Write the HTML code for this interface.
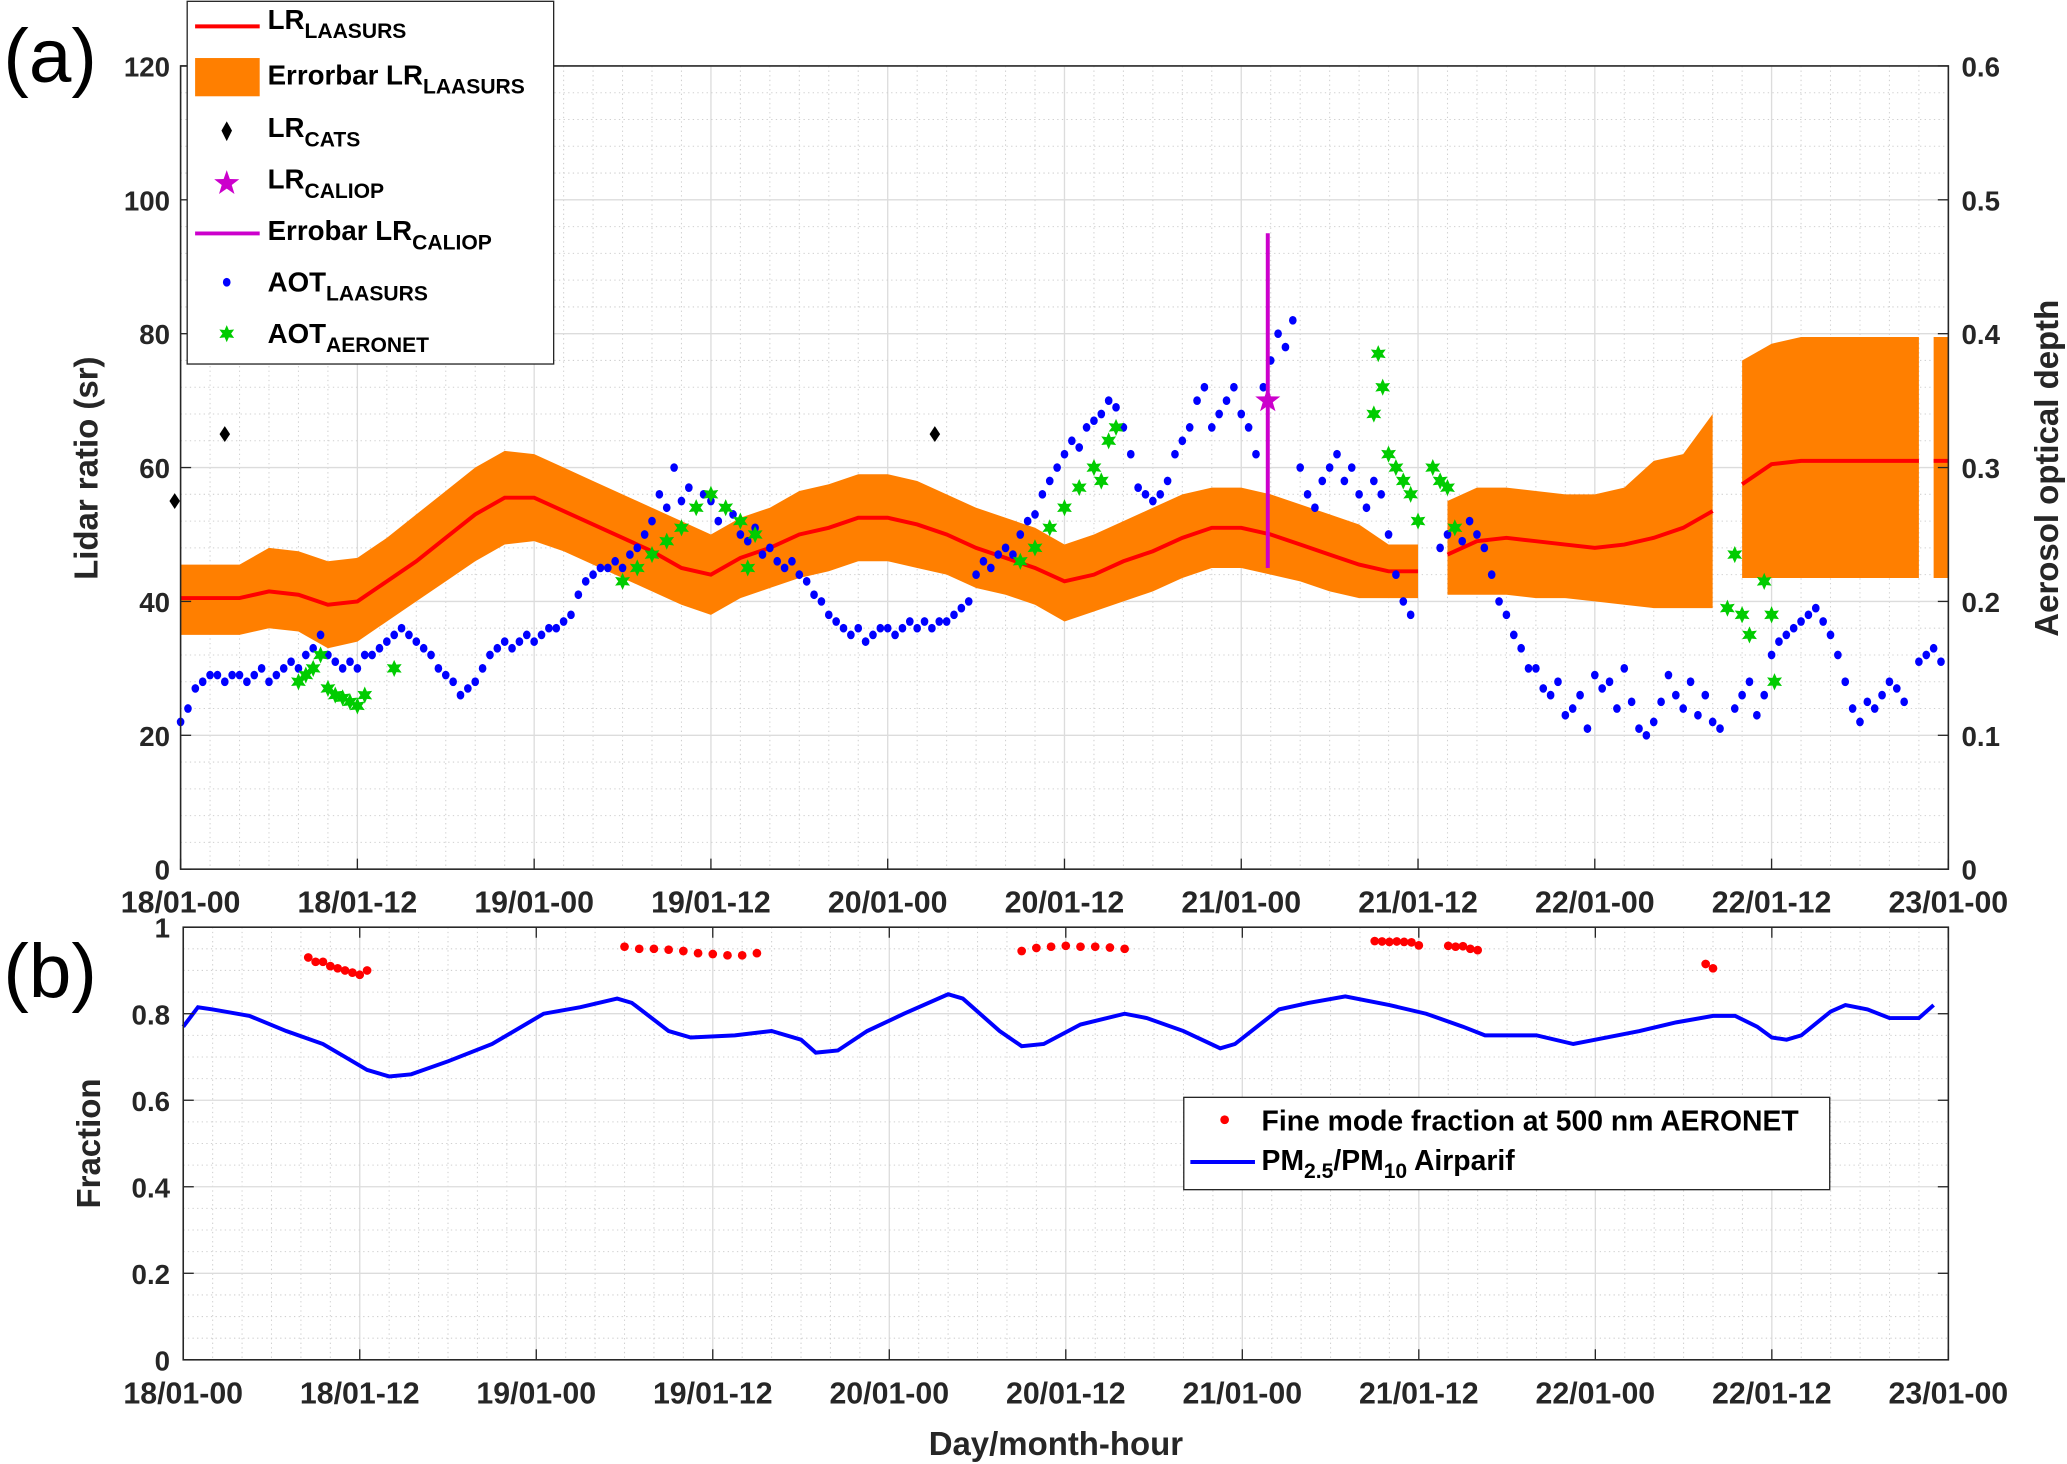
<!DOCTYPE html>
<html><head><meta charset="utf-8"><style>
html,body{margin:0;padding:0;background:#fff;}
svg{display:block;font-family:"Liberation Sans",Arial,sans-serif;font-weight:bold;}
</style></head><body>
<svg id="fig" width="2067" height="1464" viewBox="0 0 1568 1110" preserveAspectRatio="none" xmlns="http://www.w3.org/2000/svg"></svg>
<script>
// ---- data (time in hours from 18/01-00) ----
const xTickLabels = ["18/01-00","18/01-12","19/01-00","19/01-12","20/01-00","20/01-12","21/01-00","21/01-12","22/01-00","22/01-12","23/01-00"];
const lrTicks = [0,20,40,60,80,100,120];
const aotTicks = ["0","0.1","0.2","0.3","0.4","0.5","0.6"];
const fracTicks = [0,0.2,0.4,0.6,0.8,1];
const fracTickLabels = ["0","0.2","0.4","0.6","0.8","1"];

const lrTime = [0,2,4,6,8,10,12,14,16,18,20,22,24,26,28,30,32,34,36,38,40,42,44,46,48,50,52,54,56,58,60,62,64,66,68,70,72,74,76,78,80,82,84,84.5,86,88,90,92,94,96,98,100,102,104,104.5,106,108,110,112,114,116,118,118.5,119,120];
const lrValue = [40.5,40.5,40.5,41.5,41,39.5,40,43,46,49.5,53,55.5,55.5,53.5,51.5,49.5,47.5,45,44,46.5,48,50,51,52.5,52.5,51.5,50,48,46.5,45,43,44,46,47.5,49.5,51,51,50,48.5,47,45.5,44.5,44.5,null,47,49,49.5,49,48.5,48,48.5,49.5,51,53.5,null,57.5,60.5,61,61,61,61,61,null,61,61];
const lrLow = [35,35,35,36,35.5,33,34,37,40,43,46,48.5,49,47.5,45.5,43.5,41.5,39.5,38,40.5,42,43.5,44.5,46,46,45,44,42,41,39.5,37,38.5,40,41.5,43.5,45,45,44,43,41.5,40.5,40.5,40.5,null,41,41,41,40.5,40.5,40,39.5,39,39,39,null,43.5,43.5,43.5,43.5,43.5,43.5,43.5,null,43.5,43.5];
const lrHigh = [45.5,45.5,45.5,48,47.5,46,46.5,49.5,53,56.5,60,62.5,62,60,58,56,54,52,50,52.5,54,56.5,57.5,59,59,58,56,54,52.5,51,48.5,50,52,54,56,57,57,56,54.5,53,51.5,48.5,48.5,null,55,57,57,56.5,56,56,57,61,62,68,null,76,78.5,79.5,79.5,79.5,79.5,79.5,null,79.5,79.5];

const catsTime = [-0.4,3,51.2];
const catsValue = [55,65,65];
const caliopTime = [73.8];
const caliopValue = [70];
const caliopLow = [45];
const caliopHigh = [95];

const aotLaasurs = [
.110,.120,.135,.140,.145,.145,.140,.145,.145,.140,
.145,.150,.140,.145,.150,.155,.150,.160,.165,.175,
.160,.155,.150,.155,.150,.160,.160,.165,.170,.175,
.180,.175,.170,.165,.160,.150,.145,.140,.130,.135,
.140,.150,.160,.165,.170,.165,.170,.175,.170,.175,
.180,.180,.185,.190,.205,.215,.220,.225,.225,.230,
.225,.235,.240,.250,.260,.280,.270,.300,.275,.285,
.270,.280,.275,.260,.270,.265,.250,.245,.255,.235,
.240,.230,.225,.230,.220,.215,.205,.200,.190,.185,
.180,.175,.180,.170,.175,.180,.180,.175,.180,.185,
.180,.185,.180,.185,.185,.190,.195,.200,.220,.230,
.225,.235,.240,.235,.250,.260,.265,.280,.290,.300,
.310,.320,.315,.330,.335,.340,.350,.345,.330,.310,
.285,.280,.275,.280,.290,.310,.320,.330,.350,.360,
.330,.340,.350,.360,.340,.330,.310,.360,.380,.400,
.390,.410,.300,.280,.270,.290,.300,.310,.290,.300,
.280,.270,.290,.280,.250,.220,.200,.190,null,null,
null,.240,.250,.255,.245,.260,.250,.240,.220,.200,
.190,.175,.165,.150,.150,.135,.130,.140,.115,.120,
.130,.105,.145,.135,.140,.120,.150,.125,.105,.100,
.110,.125,.145,.130,.120,.140,.115,.130,.110,.105,
null,.120,.130,.140,.115,.130,.160,.170,.175,.180,
.185,.190,.195,.185,.175,.160,.140,.120,.110,.125,
.120,.130,.140,.135,.125,null,.155,.160,.165,.155,null];
const aotLaasursStep = 0.5;

const aeronetTime = [8,8.5,9,9.5,10,10.5,11,11.5,12,12.5,14.5,30,31,32,33,34,35,36,37,38,38.5,39,57,58,59,60,61,62,62.5,63,63.5,81,81.3,81.6,82,82.5,83,83.5,84,85,85.5,86,86.5,105,105.5,106,106.5,107.5,108,108.2];
const aeronetValue = [.140,.145,.150,.160,.135,.130,.128,.125,.122,.130,.150,.215,.225,.235,.245,.255,.270,.280,.270,.260,.225,.250,.230,.240,.255,.270,.285,.300,.290,.320,.330,.340,.385,.360,.310,.300,.290,.280,.260,.300,.290,.285,.255,.195,.235,.190,.175,.215,.190,.140];

const fmfTime = [8.5,9,9.5,10,10.5,11,11.5,12,12.5,30,31,32,33,34,35,36,37,38,39,57,58,59,60,61,62,63,64,81,81.5,82,82.5,83,83.5,84,86,86.5,87,87.5,88,103.5,104];
const fmfValue = [.93,.92,.92,.91,.905,.90,.895,.89,.90,.955,.95,.95,.948,.945,.94,.938,.935,.935,.94,.945,.952,.955,.957,.955,.955,.953,.95,.968,.967,.966,.967,.966,.965,.958,.957,.955,.956,.950,.947,.915,.905];

const pmTime = [0,1,2,4.5,7,9.5,11,12.5,14,15.5,18,21,24.5,27,29.5,30.5,33,34.5,37.5,40,42,43,44.5,46.5,49,52,53,55.5,57,58.5,61,64,65.5,68,70.5,71.5,73,74.5,76.5,79,82,84.5,87,88.5,91,92,94.5,96,99,101.5,104,105.5,107,108,109,110,112,113,114.5,116,118,119];
const pmValue = [.77,.815,.81,.795,.76,.73,.70,.67,.655,.66,.69,.73,.80,.815,.835,.825,.76,.745,.75,.76,.74,.71,.715,.76,.80,.845,.835,.76,.725,.73,.775,.80,.79,.76,.72,.73,.77,.81,.825,.84,.82,.80,.77,.75,.75,.75,.73,.74,.76,.78,.795,.795,.77,.745,.74,.75,.805,.82,.81,.79,.79,.82];

// ---- helpers ----
const svg = document.getElementById('fig');
const NS = 'http://www.w3.org/2000/svg';
function mk(tag, attrs, parent){const e=document.createElementNS(NS,tag);for(const k in attrs)e.setAttribute(k,attrs[k]);(parent||svg).appendChild(e);return e;}

const T = {x0:137, x1:1478, y0:659, y1:50};
const B = {x0:139, x1:1478, y0:1031, y1:703};
const xt = t => T.x0 + t*(T.x1-T.x0)/120;
const xb = t => B.x0 + t*(B.x1-B.x0)/120;
const yLR = v => T.y0 - v*(T.y0-T.y1)/120;
const yAOT = v => T.y0 - v*(T.y0-T.y1)/0.6;
const yF = v => B.y0 - v*(B.y0-B.y1);

function grid(P, xf, yMinorStep, yMax, yf, majorStep){
  const g = mk('g',{});
  
  
  for(let t=0;t<=120;t+=2){
    const major = t%12===0;
    mk('line',{x1:xf(t),x2:xf(t),y1:P.y1,y2:P.y0,stroke:major?'#dcdcdc':'#d0d0d0','stroke-width':major?1:0.8,'stroke-dasharray':major?'':'1,2.5'},g);
  }
  for(let v=0; v<=yMax+1e-9; v+=yMinorStep){
    const major = Math.abs(v/majorStep-Math.round(v/majorStep))<1e-6;
    mk('line',{x1:P.x0,x2:P.x1,y1:yf(v),y2:yf(v),stroke:major?'#dcdcdc':'#d0d0d0','stroke-width':major?1:0.8,'stroke-dasharray':major?'':'1,2.5'},g);
  }
}
function axesBox(P, name){
  const r = mk('rect',{x:P.x0,y:P.y1,width:P.x1-P.x0,height:P.y0-P.y1,fill:'none',stroke:'#262626','stroke-width':1.2});
  
  
}
function text(x,y,s,size,anchor,name,extra){
  const e = mk('text',Object.assign({x:x,y:y,'font-size':size,'text-anchor':anchor||'middle',fill:'#262626'},extra||{}));
  e.textContent = s;
  
  
  return e;
}

// ---- TOP PANEL ----
grid(T, xt, 4, 120, yLR, 20);

function segments(times, a, b){
  const segs=[];let cur=[];
  for(let i=0;i<times.length;i++){
    if(a[i]===null){if(cur.length)segs.push(cur);cur=[];continue;}
    cur.push([times[i],a[i],b?b[i]:null]);
  }
  if(cur.length)segs.push(cur);
  return segs;
}
segments(lrTime, lrLow, lrHigh).forEach((seg,i)=>{
  let d='M'+seg.map(p=>xt(p[0])+','+yLR(p[2])).join(' L');
  d+=' L'+seg.slice().reverse().map(p=>xt(p[0])+','+yLR(p[1])).join(' L')+' Z';
  const p = mk('path',{d:d,fill:'#ff7f00',stroke:'none'});
  
  
});
segments(lrTime, lrValue).forEach(seg=>{
  const p = mk('polyline',{points:seg.map(p=>xt(p[0])+','+yLR(p[1])).join(' '),fill:'none',stroke:'#ff0000','stroke-width':3});
  
  
});

const gAot = mk('g',{fill:'#0000ff'});


aotLaasurs.forEach((v,i)=>{
  if(v===null) return;
  const c = mk('ellipse',{cx:xt(i*aotLaasursStep),cy:yAOT(v),rx:2.9,ry:3.3},gAot);
  
  
});

function starPath(cx,cy,r){
  let d='';
  for(let k=0;k<12;k++){
    const a=-Math.PI/2+k*Math.PI/6;const rr=k%2===0?r:r*0.5;
    d+=(k?'L':'M')+(cx+rr*Math.cos(a)).toFixed(1)+','+(cy+rr*Math.sin(a)).toFixed(1);
  }
  return d+'Z';
}
const gAer = mk('g',{fill:'#00cc00'});


aeronetTime.forEach((t,i)=>{
  const s = mk('path',{d:starPath(xt(t),yAOT(aeronetValue[i]),6.5)},gAer);
  
  
});

catsTime.forEach((t,i)=>{
  const x=xt(t),y=yLR(catsValue[i]);
  const d = mk('path',{d:`M${x},${y-6} L${x+4},${y} L${x},${y+6} L${x-4},${y} Z`,fill:'#000'});
  
  
});
caliopTime.forEach((t,i)=>{
  const l = mk('line',{x1:xt(t),x2:xt(t),y1:yLR(caliopLow[i]),y2:yLR(caliopHigh[i]),stroke:'#cc00cc','stroke-width':3});
  
  
  const s = mk('path',{d:(function(){let d='';for(let k=0;k<10;k++){const a=-Math.PI/2+k*Math.PI/5;const r=k%2?4:10;d+=(k?'L':'M')+(xt(t)+r*Math.cos(a))+','+(yLR(caliopValue[i])+r*Math.sin(a));}return d+'Z';})(),fill:'#cc00cc'});
  
  
});

axesBox(T,'top-axes-box');
lrTicks.forEach((v,i)=>{
  mk('line',{x1:T.x0,x2:T.x0+8,y1:yLR(v),y2:yLR(v),stroke:'#262626'});
  mk('line',{x1:T.x1,x2:T.x1-8,y1:yLR(v),y2:yLR(v),stroke:'#262626'});
  text(T.x0-8,yLR(v)+8,String(v),21,'end','left-y-tick-label');
  text(T.x1+10,yLR(v)+8,aotTicks[i],21,'start','right-y-tick-label');
});
xTickLabels.forEach((s,i)=>{
  const x=xt(i*12);
  mk('line',{x1:x,x2:x,y1:T.y0,y2:T.y0-8,stroke:'#262626'});
  text(x,T.y0+33,s,23,'middle','top-x-tick-label');
});
text(0,0,'Lidar ratio (sr)',25,'middle','left-y-axis-title',{transform:`translate(74,355) rotate(-90)`});
text(0,0,'Aerosol optical depth',25,'middle','right-y-axis-title',{transform:`translate(1561,355) rotate(-90)`});
text(38,62,'(a)',58,'middle','panel-a-label',{'font-weight':'normal',fill:'#000'});

const lg = mk('g',{});


mk('rect',{x:142,y:1,width:278,height:275,fill:'#fff',stroke:'#262626','stroke-width':1},lg);
function legText(y,main,sub,name){
  const e=mk('text',{x:203,y:y,'font-size':21,fill:'#000'},lg);
  
  
  e.appendChild(document.createTextNode(main));
  if(sub){const ts=mk('tspan',{'font-size':16,dy:7},e);ts.textContent=sub;}
}
mk('line',{x1:148,x2:197,y1:20,y2:20,stroke:'#ff0000','stroke-width':3},lg);
legText(22,'LR','LAASURS','legend-lr-laasurs');
mk('rect',{x:148,y:44,width:49,height:29,fill:'#ff7f00'},lg);
legText(64,'Errorbar LR','LAASURS','legend-errorbar-lr-laasurs');
mk('path',{d:'M172,92 L176,99 L172,107 L168,99 Z',fill:'#000'},lg);
legText(104,'LR','CATS','legend-lr-cats');
(function(){let d='';for(let k=0;k<10;k++){const a=-Math.PI/2+k*Math.PI/5;const r=k%2?4:10;d+=(k?'L':'M')+(172+r*Math.cos(a))+','+(139+r*Math.sin(a));}mk('path',{d:d+'Z',fill:'#cc00cc'},lg);})();
legText(143,'LR','CALIOP','legend-lr-caliop');
mk('line',{x1:148,x2:197,y1:177,y2:177,stroke:'#cc00cc','stroke-width':3},lg);
legText(182,'Errobar LR','CALIOP','legend-errorbar-lr-caliop');
mk('ellipse',{cx:172,cy:214,rx:2.9,ry:3.3,fill:'#0000ff'},lg);
legText(221,'AOT','LAASURS','legend-aot-laasurs');
mk('path',{d:starPath(172,253,6.5),fill:'#00cc00'},lg);
legText(260,'AOT','AERONET','legend-aot-aeronet');

// ---- BOTTOM PANEL ----
grid(B, xb, 0.05, 1, yF, 0.2);
const gF = mk('g',{fill:'#ff0000'});


fmfTime.forEach((t,i)=>{
  const c=mk('circle',{cx:xb(t),cy:yF(fmfValue[i]),r:3.3},gF);
  
  
});
const pm = mk('polyline',{points:pmTime.map((t,i)=>xb(t)+','+yF(pmValue[i])).join(' '),fill:'none',stroke:'#0000ff','stroke-width':3});


axesBox(B,'bottom-axes-box');
fracTicks.forEach((v,i)=>{
  mk('line',{x1:B.x0,x2:B.x0+8,y1:yF(v),y2:yF(v),stroke:'#262626'});
  mk('line',{x1:B.x1,x2:B.x1-8,y1:yF(v),y2:yF(v),stroke:'#262626'});
  text(B.x0-10,yF(v)+8,fracTickLabels[i],21,'end','bottom-y-tick-label');
});
xTickLabels.forEach((s,i)=>{
  const x=xb(i*12);
  mk('line',{x1:x,x2:x,y1:B.y0,y2:B.y0-8,stroke:'#262626'});
  mk('line',{x1:x,x2:x,y1:B.y1,y2:B.y1+8,stroke:'#262626'});
  text(x,B.y0+33,s,23,'middle','bottom-x-tick-label');
});
text(0,0,'Fraction',25,'middle','bottom-y-axis-title',{transform:`translate(76,867) rotate(-90)`});
text(801,1103,'Day/month-hour',25,'middle','x-axis-title');
text(38,756,'(b)',58,'middle','panel-b-label',{'font-weight':'normal',fill:'#000'});

const lb = mk('g',{});


mk('rect',{x:898,y:832,width:490,height:70,fill:'#fff',stroke:'#262626','stroke-width':1},lb);
mk('circle',{cx:929,cy:849,r:3.3,fill:'#ff0000'},lb);
const t1=mk('text',{x:957,y:857,'font-size':21.5,fill:'#000'},lb);t1.textContent='Fine mode fraction at 500 nm AERONET';


mk('line',{x1:903,x2:952,y1:881,y2:881,stroke:'#0000ff','stroke-width':3},lb);
const t2=mk('text',{x:957,y:887,'font-size':21.5,fill:'#000'},lb);


t2.appendChild(document.createTextNode('PM'));
let s1=mk('tspan',{'font-size':16,dy:6},t2);s1.textContent='2.5';
let s2=mk('tspan',{dy:-6},t2);s2.textContent='/PM';
let s3=mk('tspan',{'font-size':16,dy:6},t2);s3.textContent='10';
let s4=mk('tspan',{dy:-6},t2);s4.textContent=' Airparif';
</script>
</body></html>
